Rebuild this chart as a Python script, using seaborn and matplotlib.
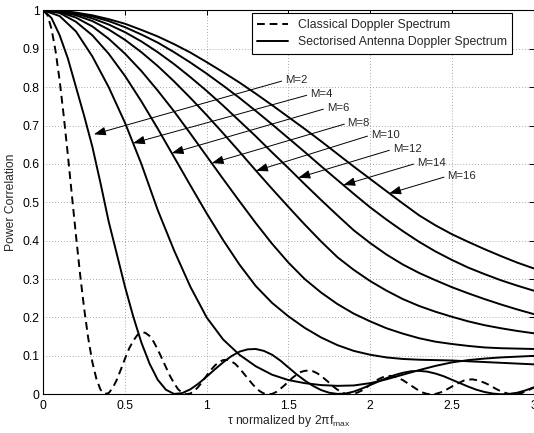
import numpy as np
import seaborn as sns
import matplotlib
matplotlib.use("Agg")
import matplotlib.pyplot as plt

# x positions (tau normalised)
tau_c = np.round(np.arange(0, 3.0001, 0.025), 3)
tau_m2 = np.round(np.arange(0, 3.0001, 0.05), 3)
tau = np.round(np.arange(0, 3.0001, 0.1), 2)

# classical doppler spectrum (dashed)
classical = [
    1.0, 0.988, 0.952, 0.894, 0.817, 0.725, 0.624, 0.518, 0.413, 0.313,
    0.223, 0.146, 0.084, 0.040, 0.012, 0.001, 0.003, 0.017, 0.038, 0.065,
    0.093, 0.119, 0.139, 0.154, 0.162, 0.160, 0.152, 0.137, 0.117, 0.094,
    0.071, 0.048, 0.029, 0.013, 0.004, 0.000, 0.002, 0.009, 0.020, 0.034,
    0.049, 0.063, 0.075, 0.084, 0.089, 0.090, 0.086, 0.079, 0.068, 0.055,
    0.042, 0.029, 0.017, 0.008, 0.002, 0.000, 0.001, 0.006, 0.014, 0.023,
    0.033, 0.043, 0.051, 0.058, 0.061, 0.062, 0.060, 0.055, 0.048, 0.039,
    0.030, 0.020, 0.012, 0.006, 0.001, 0.000, 0.001, 0.005, 0.010, 0.017,
    0.025, 0.032, 0.039, 0.044, 0.047, 0.048, 0.046, 0.042, 0.037, 0.030,
    0.023, 0.016, 0.009, 0.004, 0.001, 0.000, 0.001, 0.004, 0.008, 0.014,
    0.020, 0.026, 0.031, 0.036, 0.038, 0.039, 0.037, 0.034, 0.030, 0.025,
    0.019, 0.013, 0.008, 0.004, 0.001, 0.000, 0.001, 0.003, 0.007, 0.012,
    0.017,
]

# sectorised antenna curves
m2 = [
    1.0, 0.98, 0.935, 0.875, 0.80, 0.725, 0.645, 0.55, 0.45, 0.365,
    0.28, 0.203, 0.135, 0.08, 0.038, 0.012, 0.001, 0.003, 0.013, 0.028,
    0.046, 0.065, 0.083, 0.099, 0.111, 0.117, 0.118, 0.113, 0.103, 0.088,
    0.07, 0.052, 0.036, 0.022, 0.011, 0.004, 0.001, 0.002, 0.007, 0.015,
    0.024, 0.033, 0.042, 0.05, 0.056, 0.06, 0.061, 0.059, 0.054, 0.047,
    0.038, 0.029, 0.02, 0.012, 0.006, 0.002, 0.0, 0.001, 0.004, 0.01,
    0.018,
]
m4 = [1.0, 0.985, 0.945, 0.88, 0.80, 0.707, 0.60, 0.48, 0.375, 0.28,
      0.20, 0.143, 0.103, 0.073, 0.051, 0.037, 0.029, 0.024, 0.022, 0.023,
      0.029, 0.039, 0.051, 0.063, 0.074, 0.083, 0.089, 0.093, 0.096, 0.098, 0.1]
m6 = [1.0, 0.993, 0.970, 0.935, 0.887, 0.829, 0.763, 0.692, 0.618, 0.544,
      0.471, 0.402, 0.338, 0.282, 0.238, 0.203, 0.173, 0.148, 0.128, 0.113,
      0.103, 0.096, 0.092, 0.090, 0.089, 0.088, 0.086, 0.084, 0.082, 0.080, 0.078]
m8 = [1.0, 0.995, 0.981, 0.958, 0.926, 0.887, 0.842, 0.791, 0.737, 0.679,
      0.620, 0.561, 0.503, 0.446, 0.392, 0.343, 0.30, 0.265, 0.235, 0.21,
      0.19, 0.172, 0.158, 0.146, 0.137, 0.131, 0.126, 0.122, 0.12, 0.119, 0.118]
m10 = [1.0, 0.997, 0.987, 0.972, 0.950, 0.923, 0.891, 0.855, 0.815, 0.772,
       0.727, 0.680, 0.632, 0.583, 0.535, 0.488, 0.442, 0.398, 0.357, 0.324,
       0.295, 0.27, 0.248, 0.23, 0.215, 0.202, 0.19, 0.18, 0.172, 0.165, 0.159]
m12 = [1.0, 0.998, 0.991, 0.979, 0.963, 0.943, 0.919, 0.891, 0.860, 0.826,
       0.790, 0.752, 0.712, 0.672, 0.630, 0.589, 0.547, 0.506, 0.466, 0.427,
       0.394, 0.364, 0.338, 0.316, 0.297, 0.279, 0.263, 0.248, 0.234, 0.221, 0.209]
m14 = [1.0, 0.998, 0.993, 0.984, 0.972, 0.956, 0.937, 0.916, 0.891, 0.864,
       0.835, 0.804, 0.772, 0.738, 0.703, 0.667, 0.631, 0.594, 0.558, 0.522,
       0.487, 0.455, 0.425, 0.397, 0.372, 0.35, 0.33, 0.313, 0.297, 0.283, 0.27]
m16 = [1.0, 0.999, 0.994, 0.987, 0.977, 0.965, 0.949, 0.932, 0.912, 0.890,
       0.865, 0.839, 0.812, 0.783, 0.753, 0.722, 0.691, 0.659, 0.626, 0.593,
       0.561, 0.529, 0.497, 0.466, 0.44, 0.417, 0.397, 0.378, 0.36, 0.343, 0.328]

# arrow labels: (label, arrow tip, text position)
labels = ["M=2", "M=4", "M=6", "M=8", "M=10", "M=12", "M=14", "M=16"]
tips = [(0.31, 0.677), (0.549, 0.654), (0.786, 0.628), (1.031, 0.602),
        (1.302, 0.582), (1.561, 0.564), (1.836, 0.545), (2.117, 0.523)]
text_pos = [(1.479, 0.818), (1.632, 0.781), (1.734, 0.745), (1.862, 0.706),
            (2.004, 0.675), (2.138, 0.638), (2.285, 0.602), (2.472, 0.568)]

sns.set_style("white")
plt.rcParams["font.family"] = ["Liberation Sans", "DejaVu Sans"]
plt.rcParams["mathtext.fontset"] = "custom"
plt.rcParams["mathtext.rm"] = "Liberation Sans"
plt.rcParams["mathtext.it"] = "Liberation Sans:italic"

fig = plt.figure(figsize=(5.34, 4.33), dpi=100)
ax = fig.add_axes([0.0811, 0.0894, 0.918, 0.8868])

lw = 1.4
sns.lineplot(x=tau_c, y=classical, ax=ax, color="black", lw=lw,
             linestyle="--", label="Classical Doppler Spectrum")
ax.lines[-1].set_dashes([4, 2.5])
sns.lineplot(x=tau_m2, y=m2, ax=ax, color="black", lw=lw,
             label="Sectorised Antenna Doppler Spectrum")
for ys in [m4, m6, m8, m10, m12, m14, m16]:
    sns.lineplot(x=tau, y=ys, ax=ax, color="black", lw=lw, legend=False)

for lab, tip, tp in zip(labels, tips, text_pos):
    ax.annotate(lab, xy=tip, xytext=tp, ha="left", va="center", fontsize=8.2,
                arrowprops=dict(arrowstyle="-|>,head_length=0.55,head_width=0.2",
                                color="black", lw=0.7, mutation_scale=13,
                                shrinkA=0, shrinkB=0, relpos=(0, 0.5)))

ax.set_xlim(0, 3)
ax.set_ylim(0, 1)
ax.set_xticks([0, 0.5, 1, 1.5, 2, 2.5, 3])
ax.set_xticklabels(["0", "0.5", "1", "1.5", "2", "2.5", "3"])
ax.set_yticks(np.round(np.arange(0, 1.01, 0.1), 1))
ax.set_yticklabels(["0"] + ["%.1f" % v for v in np.arange(0.1, 0.95, 0.1)] + ["1"])
ax.grid(True, linestyle=(0, (1, 2.5)), color="0.55", lw=0.6)
ax.tick_params(direction="in", length=3.5, width=0.7, top=True, right=True,
               labelsize=8.7, colors="black")
ax.tick_params(axis="x", pad=4)
ax.tick_params(axis="y", pad=2.5)
for sp in ax.spines.values():
    sp.set_color("black")
    sp.set_linewidth(0.8)

ax.set_xlabel("τ normalized by 2πf$_{\\mathrm{max}}$", fontsize=8.7, labelpad=1)
ax.set_ylabel("Power Correlation", fontsize=8.7, labelpad=4)

leg = ax.legend(loc="upper right", bbox_to_anchor=(0.957, 0.992), borderaxespad=0,
                fontsize=8.8, handlelength=2.5, fancybox=False, framealpha=1,
                edgecolor="black", borderpad=0.45, labelspacing=0.45)
leg.get_frame().set_linewidth(0.8)

fig.savefig("out.png", dpi=100)
